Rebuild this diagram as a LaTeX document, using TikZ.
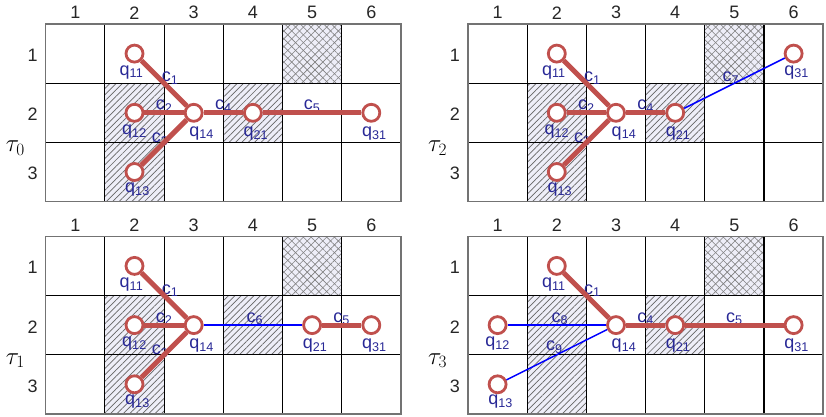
\documentclass[tikz,border=0pt]{standalone}
\usepackage[no-math]{fontspec}
\setmainfont{Liberation Sans}
\usetikzlibrary{patterns.meta,positioning}
\definecolor{edgered}{RGB}{192,80,77}
\definecolor{labblue}{RGB}{40,40,150}
\definecolor{hatchbg}{RGB}{238,238,248}
\tikzset{every picture/.style={line width=0.75pt}}
\tikzset{
  vert/.style={circle,draw=edgered,line width=2.8pt,fill=white,minimum size=17pt,inner sep=0pt},
  redline/.style={draw=edgered,line width=5pt},
  blueline/.style={draw=blue,line width=1.5pt},
  clab/.style={text=labblue,font=\fontsize{18}{18}\selectfont,inner sep=0pt,anchor=base,yshift=3pt,behind path},
  qlab/.style={text=labblue,font=\fontsize{18}{18}\selectfont,inner sep=0.5pt},
  numlab/.style={text=black!85,font=\fontsize{18}{18}\selectfont,inner sep=0pt},
  taulab/.style={font=\fontsize{27}{30}\selectfont,anchor=base west,inner sep=0pt},
  gridline/.style={line width=1.1pt,black},
  frameline/.style={line width=1.5pt,black!55},
}

\begin{document}
\begin{tikzpicture}[x=1pt,y=-1pt]
    \useasboundingbox (0,0) rectangle (826,416);
    % 四个网格
    \foreach \ox/\oy/\t in {45.7/24/0, 468/24/2, 45.7/236.3/1, 468/236.3/3}{
      \begin{scope}[xshift=\ox pt,yshift=-\oy pt,x=59.2pt,y=-59.2pt]
        \fill[hatchbg] (1,1) rectangle (2,3) (3,1) rectangle (4,2) (4,0) rectangle (5,1);
        \fill[pattern={Lines[angle=45,distance=4.5pt,line width=0.7pt]},pattern color=black!60]
          (1,1) rectangle (2,3) (3,1) rectangle (4,2);
        \fill[pattern={Lines[angle=45,distance=5.5pt,line width=0.6pt]},pattern color=black!50] (4,0) rectangle (5,1);
        \fill[pattern={Lines[angle=-45,distance=5.5pt,line width=0.6pt]},pattern color=black!50] (4,0) rectangle (5,1);
        \foreach \i in {1,...,5} \draw[gridline] (\i,0) -- (\i,3);
        \foreach \j in {1,2} \draw[gridline] (0,\j) -- (6,\j);
        \draw[frameline] (0,0) rectangle (6,3);
        \foreach \c in {1,...,6} \node[numlab] (col\c) at (\c-0.5,-0.19) {\c};
        \foreach \r in {1,2,3} \node[numlab] (row\r) at (-0.22,\r-0.47) {\r};
        \node[taulab] (tau\t) at (-0.68,2.16) {$\tau_\t$};
      \end{scope}
    }
    % tau_0
    \begin{scope}[xshift=45.7pt,yshift=-24pt,x=59.2pt,y=-59.2pt]
      \node[vert,label={[qlab,xshift=-3pt,yshift=-1pt]below:q\textsubscript{11}}] (a11) at (1.5,0.5) {};
      \node[vert,label={[qlab,yshift=-1pt]below:q\textsubscript{12}}] (a12) at (1.5,1.5) {};
      \node[vert,label={[qlab,xshift=3pt]below:q\textsubscript{13}}] (a13) at (1.5,2.5) {};
      \node[vert,label={[qlab,xshift=8pt,yshift=-3pt]below:q\textsubscript{14}}] (a14) at (2.5,1.5) {};
      \node[vert,label={[qlab,xshift=3pt,yshift=-3pt]below:q\textsubscript{21}}] (a21) at (3.5,1.5) {};
      \node[vert,label={[qlab,xshift=3pt,yshift=-3pt]below:q\textsubscript{31}}] (a31) at (5.5,1.5) {};
      \draw[redline] (a11) -- node[clab,xshift=6pt,yshift=-1.5pt] (ac1) {c\textsubscript{1}} (a14);
      \draw[redline] (a12) -- node[clab] (ac2) {c\textsubscript{2}} (a14);
      \draw[redline] (a13) -- node[clab,xshift=-4pt,yshift=-3pt] (ac3) {c\textsubscript{3}} (a14);
      \draw[redline] (a14) -- node[clab] (ac4) {c\textsubscript{4}} (a21);
      \draw[redline] (a21) -- node[clab] (ac5) {c\textsubscript{5}} (a31);
    \end{scope}
    % tau_2
    \begin{scope}[xshift=468pt,yshift=-24pt,x=59.2pt,y=-59.2pt]
      \node[vert,label={[qlab,xshift=-3pt,yshift=-1pt]below:q\textsubscript{11}}] (b11) at (1.5,0.5) {};
      \node[vert,label={[qlab,yshift=-1pt]below:q\textsubscript{12}}] (b12) at (1.5,1.5) {};
      \node[vert,label={[qlab,xshift=3pt]below:q\textsubscript{13}}] (b13) at (1.5,2.5) {};
      \node[vert,label={[qlab,xshift=8pt,yshift=-3pt]below:q\textsubscript{14}}] (b14) at (2.5,1.5) {};
      \node[vert,label={[qlab,xshift=3pt,yshift=-3pt]below:q\textsubscript{21}}] (b21) at (3.5,1.5) {};
      \node[vert,label={[qlab,xshift=3pt,yshift=-1pt]below:q\textsubscript{31}}] (b31) at (5.5,0.5) {};
      \draw[redline] (b11) -- node[clab,xshift=6pt,yshift=-1.5pt] (bc1) {c\textsubscript{1}} (b14);
      \draw[redline] (b12) -- node[clab] (bc2) {c\textsubscript{2}} (b14);
      \draw[redline] (b13) -- node[clab,xshift=-4pt,yshift=-3pt] (bc3) {c\textsubscript{3}} (b14);
      \draw[redline] (b14) -- node[clab] (bc4) {c\textsubscript{4}} (b21);
      \draw[blueline] (b21) -- node[clab,xshift=-3.5pt,yshift=-1.5pt] (bc7) {c\textsubscript{7}} (b31);
    \end{scope}
    % tau_1
    \begin{scope}[xshift=45.7pt,yshift=-236.3pt,x=59.2pt,y=-59.2pt]
      \node[vert,label={[qlab,xshift=-3pt,yshift=-1pt]below:q\textsubscript{11}}] (c11) at (1.5,0.5) {};
      \node[vert,label={[qlab,yshift=-1pt]below:q\textsubscript{12}}] (c12) at (1.5,1.5) {};
      \node[vert,label={[qlab,xshift=3pt]below:q\textsubscript{13}}] (c13) at (1.5,2.5) {};
      \node[vert,label={[qlab,xshift=8pt,yshift=-3pt]below:q\textsubscript{14}}] (c14) at (2.5,1.5) {};
      \node[vert,label={[qlab,xshift=3pt,yshift=-3pt]below:q\textsubscript{21}}] (c21) at (4.5,1.5) {};
      \node[vert,label={[qlab,xshift=3pt,yshift=-3pt]below:q\textsubscript{31}}] (c31) at (5.5,1.5) {};
      \draw[redline] (c11) -- node[clab,xshift=6pt,yshift=-1.5pt] (cc1) {c\textsubscript{1}} (c14);
      \draw[redline] (c12) -- node[clab] (cc2) {c\textsubscript{2}} (c14);
      \draw[redline] (c13) -- node[clab,xshift=-4pt,yshift=-3pt] (cc3) {c\textsubscript{3}} (c14);
      \draw[blueline] (c14) -- node[clab,xshift=2pt] (cc6) {c\textsubscript{6}} (c21);
      \draw[redline] (c21) -- node[clab] (cc5) {c\textsubscript{5}} (c31);
    \end{scope}
    % tau_3
    \begin{scope}[xshift=468pt,yshift=-236.3pt,x=59.2pt,y=-59.2pt]
      \node[vert,label={[qlab,xshift=-3pt,yshift=-1pt]below:q\textsubscript{11}}] (d11) at (1.5,0.5) {};
      \node[vert,label={[qlab,yshift=-1pt]below:q\textsubscript{12}}] (d12) at (0.5,1.5) {};
      \node[vert,label={[qlab,xshift=3pt]below:q\textsubscript{13}}] (d13) at (0.5,2.5) {};
      \node[vert,label={[qlab,xshift=8pt,yshift=-3pt]below:q\textsubscript{14}}] (d14) at (2.5,1.5) {};
      \node[vert,label={[qlab,xshift=3pt,yshift=-3pt]below:q\textsubscript{21}}] (d21) at (3.5,1.5) {};
      \node[vert,label={[qlab,xshift=3pt,yshift=-3pt]below:q\textsubscript{31}}] (d31) at (5.5,1.5) {};
      \draw[redline] (d11) -- node[clab,xshift=6pt,yshift=-1.5pt] (dc1) {c\textsubscript{1}} (d14);
      \draw[blueline] (d12) -- node[clab,xshift=3pt] (dc8) {c\textsubscript{8}} (d14);
      \draw[blueline] (d13) -- node[clab,xshift=-2.5pt,yshift=1.5pt] (dc9) {c\textsubscript{9}} (d14);
      \draw[redline] (d14) -- node[clab] (dc4) {c\textsubscript{4}} (d21);
      \draw[redline] (d21) -- node[clab] (dc5) {c\textsubscript{5}} (d31);
    \end{scope}
\end{tikzpicture}
\end{document}
